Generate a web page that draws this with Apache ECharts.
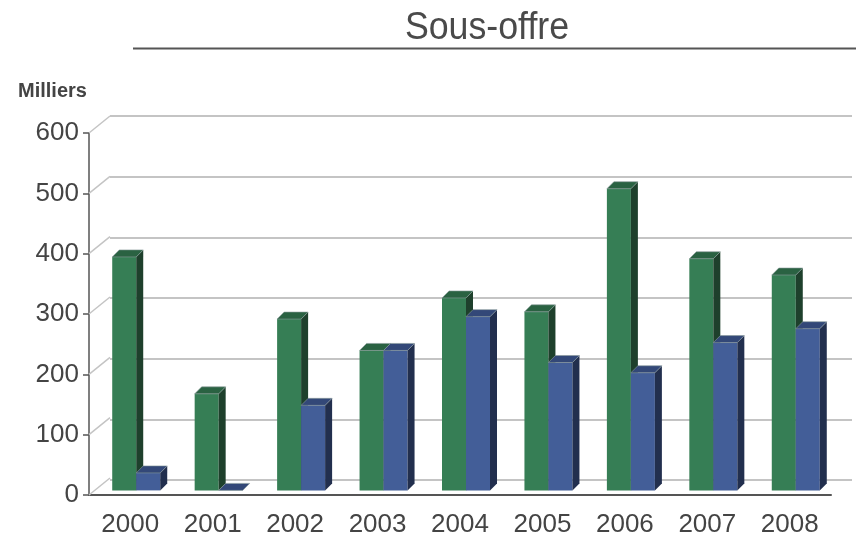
<!DOCTYPE html>
<html>
<head>
<meta charset="utf-8">
<script src="https://cdn.jsdelivr.net/npm/echarts@6/dist/echarts.min.js"></script>
<style>
  html, body { margin: 0; padding: 0; background: #fff; }
  #chart { width: 856px; height: 538px; }
</style>
</head>
<body>
<div id="chart"></div>
<script>
const years = ['2000','2001','2002','2003','2004','2005','2006','2007','2008'];
const greenVals = [387, 160, 284, 232, 319, 296, 500, 384, 357];
const blueVals = [29, 0, 141, 232, 288, 212, 195, 245, 268];
const yTicks = [0, 100, 200, 300, 400, 500, 600];

const FONT = "'Liberation Sans', Arial, sans-serif";
const BAR_W = 24, D = 7, LIFT = 4.6;
const WALL_DX = 21, WALL_DY = 17;

const green = {front:'#367e55', side:'#1e402c', top:'#2a6242'};
const blue = {front:'#435e98', side:'#222f4e', top:'#334878'};

// 3D-looking bar: front face, side face, top face
function bar3d(offset, c){
  return (params, api) => {
    const i = api.value(0), v = api.value(1);
    const base = api.coord([i, 0]), top = api.coord([i, v]);
    const x0 = base[0] + offset, x1 = x0 + BAR_W;
    const yb = base[1] - LIFT, yt = top[1] - LIFT;
    return {type:'group', children:[
      {type:'rect', shape:{x:x0, y:yt, width:BAR_W, height:yb-yt}, style:{fill:c.front}},
      {type:'polygon', shape:{points:[[x1,yt],[x1+D,yt-D],[x1+D,yb-D],[x1,yb]]}, style:{fill:c.side}},
      {type:'polygon', shape:{points:[[x0,yt],[x0+D,yt-D],[x1+D,yt-D],[x1,yt]]}, style:{fill:c.top, stroke:'#8a9a9a', lineWidth:0.6}}
    ]};
  };
}

const chart = echarts.init(document.getElementById('chart'));
chart.setOption({
  animation: false,
  graphic: [
    {type:'text', x:487, y:10, scaleX:0.94, style:{text:'Sous-offre', fontFamily:FONT, fontSize:38, fill:'#4a4a4a', textAlign:'center', textVerticalAlign:'top'}},
    {type:'line', shape:{x1:133, y1:48.5, x2:856, y2:48.5}, style:{stroke:'#555', lineWidth:2}},
    {type:'text', x:18, y:81, style:{text:'Milliers', fontFamily:FONT, fontSize:20, fontWeight:'bold', fill:'#444', textVerticalAlign:'top'}}
  ],
  grid: [
    {left:89, right:25, top:133, bottom:41},
    {left:89+WALL_DX, right:4, top:133-WALL_DY, bottom:41+WALL_DY}
  ],
  xAxis: [
    {type:'category', data:years, gridIndex:0,
      axisLine:{lineStyle:{color:'#555', width:2}},
      axisTick:{length:7, lineStyle:{color:'#555', width:1.5}},
      axisLabel:{fontFamily:FONT, fontSize:26, color:'#444', margin:17},
      splitLine:{show:false}},
    {type:'category', data:years, gridIndex:1, show:false}
  ],
  yAxis: [
    {type:'value', min:0, max:600, interval:100, gridIndex:0,
      axisLine:{show:true, lineStyle:{color:'#555', width:1.5}},
      axisTick:{show:true, length:6, lineStyle:{color:'#555', width:1.5}},
      axisLabel:{fontFamily:FONT, fontSize:26, color:'#444', margin:10},
      splitLine:{show:false}},
    {type:'value', min:0, max:600, interval:100, gridIndex:1,
      axisLine:{show:false}, axisTick:{show:false}, axisLabel:{show:false},
      splitLine:{lineStyle:{color:'#c4c4c4', width:2}}}
  ],
  series: [
    {type:'custom', xAxisIndex:0, yAxisIndex:0, z:1, silent:true,
      data: yTicks.map(v => [0, v]),
      renderItem: (params, api) => {
        const p = api.coord([0, api.value(1)]);
        const x = params.coordSys.x;
        return {type:'line', shape:{x1:x, y1:p[1], x2:x+WALL_DX, y2:p[1]-WALL_DY},
          style:{stroke:'#c4c4c4', lineWidth:1.5}};
      }},
    {type:'custom', name:'green', z:3, data: years.map((y, i) => [i, greenVals[i]]), renderItem: bar3d(-18, green)},
    {type:'custom', name:'blue', z:4, data: years.map((y, i) => [i, blueVals[i]]), renderItem: bar3d(6, blue)}
  ]
});
</script>
</body>
</html>
